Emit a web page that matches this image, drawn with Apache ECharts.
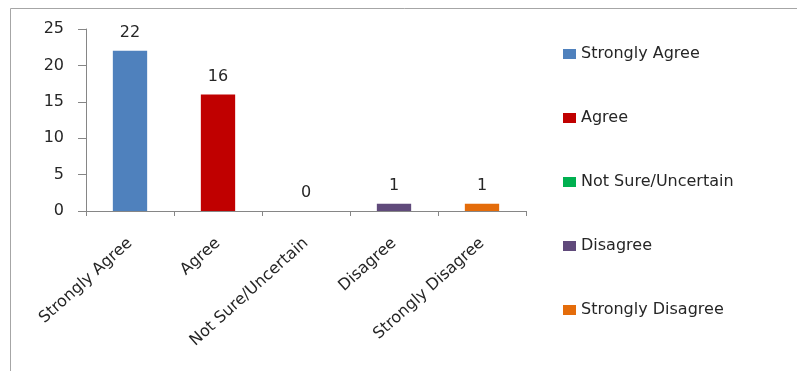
<!DOCTYPE html>
<html>
<head>
<meta charset="utf-8">
<script src="https://cdn.jsdelivr.net/npm/echarts@6/dist/echarts.min.js"></script>
<style>
  html, body { margin: 0; padding: 0; background: #ffffff; }
  #chart { width: 797px; height: 371px; }
</style>
</head>
<body>
<div id="chart"></div>
<script>
// Survey responses per answer option
const categories = ['Strongly Agree', 'Agree', 'Not Sure/Uncertain', 'Disagree', 'Strongly Disagree'];
const counts = [22, 16, 0, 1, 1];
const colors = ['#4F81BD', '#C00000', '#00B050', '#604A7B', '#E46C0A'];
const yTicks = { min: 0, max: 25, interval: 5 };

const FONT = 'DejaVu Sans';
const TEXT = '#262626';
const AXIS = '#868686';

// One series per answer so each gets its own legend entry; stacking keeps every bar centred
const series = categories.map((name, i) => ({
  name: name,
  type: 'bar',
  stack: 'answers',
  barWidth: '39%',
  itemStyle: { color: colors[i] },
  label: {
    show: true,
    position: 'top',
    distance: 10,
    fontFamily: FONT,
    fontSize: 16,
    color: TEXT
  },
  data: categories.map((_, j) => (j === i ? counts[i] : '-'))
}));

const chart = echarts.init(document.getElementById('chart'), null, { renderer: 'canvas' });
chart.setOption({
  animation: false,
  backgroundColor: '#ffffff',
  graphic: [{
    type: 'rect',
    shape: { x: 10.5, y: 8.5, width: 800, height: 400 },
    style: { fill: 'none', stroke: '#a6a6a6', lineWidth: 1 },
    silent: true,
    z: -1
  }],
  grid: { left: 86, top: 29, right: 271, bottom: 160, containLabel: false },
  legend: {
    orient: 'vertical',
    left: 558,
    top: 40,
    itemWidth: 13,
    itemHeight: 10,
    itemGap: 46,
    icon: 'rect',
    textStyle: { fontFamily: FONT, fontSize: 16, color: TEXT, lineHeight: 18 },
    data: categories
  },
  xAxis: {
    type: 'category',
    data: categories,
    axisLine: { show: true, lineStyle: { color: AXIS, width: 1 } },
    axisTick: { show: true, alignWithLabel: false, length: 5, lineStyle: { color: AXIS } },
    axisLabel: {
      interval: 0,
      rotate: 42,
      margin: 30,
      fontFamily: FONT,
      fontSize: 16,
      color: TEXT
    },
    splitLine: { show: false }
  },
  yAxis: {
    type: 'value',
    min: yTicks.min,
    max: yTicks.max,
    interval: yTicks.interval,
    axisLine: { show: true, lineStyle: { color: AXIS, width: 1 } },
    axisTick: { show: true, length: 8, lineStyle: { color: AXIS } },
    axisLabel: { margin: 22, fontFamily: FONT, fontSize: 16, color: TEXT },
    splitLine: { show: false }
  },
  series: series
});
</script>
</body>
</html>
